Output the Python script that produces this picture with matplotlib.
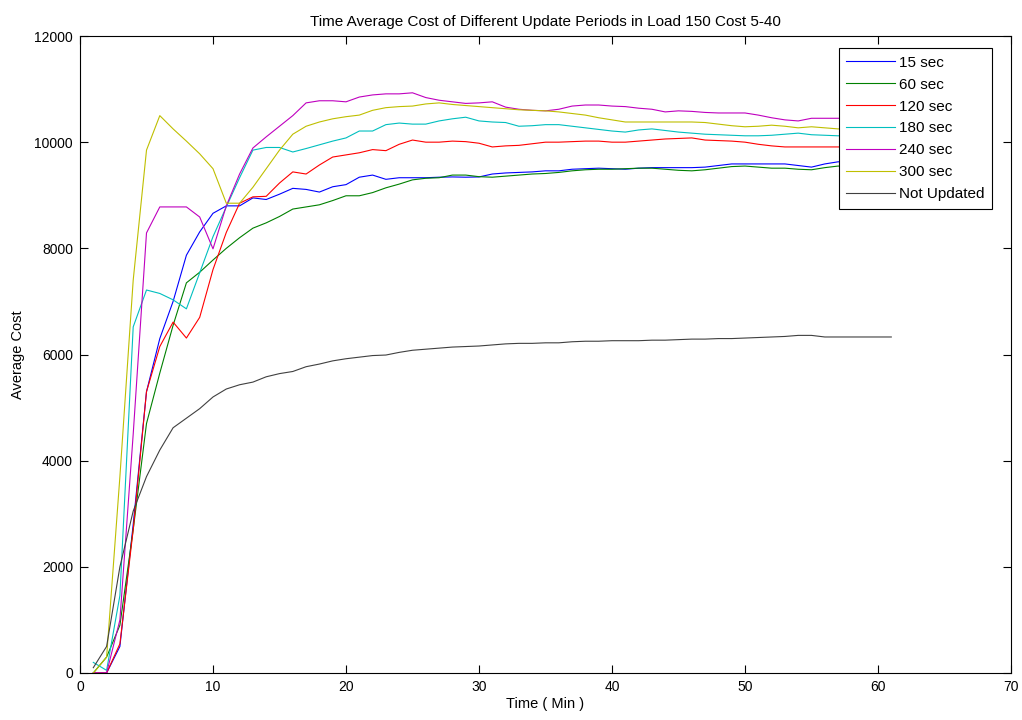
import matplotlib
matplotlib.use("Agg")
import matplotlib.pyplot as plt
import numpy as np

plt.rcParams['font.family'] = ['Liberation Sans', 'DejaVu Sans']

minutes = list(range(1, 62))

cost_15 = [0, 0, 500, 2800, 5300, 6300, 7000, 7870, 8310, 8660,
           8800, 8800, 8950, 8920, 9020, 9130, 9110, 9060, 9160, 9200,
           9340, 9380, 9300, 9330, 9330, 9330, 9340, 9345, 9340, 9345,
           9400, 9420, 9430, 9440, 9460, 9460, 9490, 9500, 9510, 9500,
           9490, 9510, 9520, 9520, 9520, 9520, 9530, 9560, 9590, 9590,
           9590, 9590, 9590, 9560, 9530, 9590, 9630, 9620, 9630, 9640, 9640]

cost_60 = [0, 300, 900, 2700, 4700, 5650, 6550, 7350, 7550, 7780,
           8000, 8200, 8380, 8480, 8600, 8740, 8780, 8820, 8900, 8990,
           8990, 9050, 9140, 9210, 9290, 9320, 9330, 9380, 9380, 9350,
           9340, 9360, 9380, 9400, 9410, 9430, 9460, 9480, 9490, 9490,
           9500, 9510, 9510, 9490, 9470, 9460, 9480, 9510, 9540, 9550,
           9530, 9510, 9510, 9490, 9480, 9520, 9550, 9540, 9550, 9560, 9560]

cost_120 = [0, 0, 550, 2700, 5300, 6150, 6610, 6310, 6700, 7600,
            8300, 8850, 8970, 8980, 9230, 9440, 9400, 9570, 9720, 9760,
            9800, 9860, 9840, 9960, 10040, 10000, 10000, 10020, 10010, 9980,
            9910, 9930, 9940, 9970, 10000, 10000, 10010, 10020, 10020, 10000,
            10000, 10020, 10040, 10060, 10070, 10080, 10040, 10030, 10020, 10000,
            9960, 9930, 9910, 9910, 9910, 9910, 9910, 9910, 9910, 9910, 9910]

cost_180 = [200, 50, 1460, 6520, 7215, 7150, 7030, 6860, 7540, 8220,
            8780, 9330, 9850, 9900, 9900, 9815, 9880, 9950, 10020, 10080,
            10210, 10210, 10330, 10360, 10340, 10340, 10400, 10440, 10470, 10400,
            10380, 10370, 10300, 10310, 10330, 10330, 10300, 10270, 10240, 10210,
            10190, 10230, 10250, 10220, 10190, 10170, 10150, 10140, 10130, 10120,
            10120, 10130, 10150, 10170, 10140, 10130, 10120, 10130, 10130, 10140, 10140]

cost_240 = [0, 0, 1000, 4500, 8290, 8780, 8780, 8780, 8590, 7990,
            8800, 9400, 9890, 10100, 10300, 10500, 10740, 10780, 10780, 10760,
            10850, 10890, 10910, 10910, 10930, 10840, 10790, 10760, 10730, 10740,
            10760, 10660, 10620, 10600, 10590, 10620, 10680, 10700, 10700, 10680,
            10670, 10640, 10620, 10570, 10590, 10580, 10560, 10550, 10550, 10550,
            10510, 10460, 10420, 10400, 10450, 10450, 10450, 10440, 10440, 10440, 10440]

cost_300 = [0, 300, 3700, 7400, 9850, 10500, 10250, 10020, 9780, 9500,
            8850, 8850, 9150, 9500, 9850, 10150, 10300, 10380, 10440, 10480,
            10510, 10600, 10650, 10670, 10680, 10720, 10740, 10710, 10690, 10670,
            10650, 10630, 10610, 10600, 10590, 10570, 10540, 10510, 10460, 10420,
            10380, 10380, 10380, 10380, 10380, 10380, 10370, 10340, 10310, 10290,
            10300, 10320, 10300, 10270, 10290, 10270, 10250, 10250, 10250, 10250, 10250]

cost_static = [100, 500, 2000, 3050, 3700, 4200, 4620, 4800, 4980, 5200,
               5350, 5430, 5480, 5580, 5640, 5680, 5770, 5820, 5880, 5920,
               5950, 5980, 5990, 6040, 6080, 6100, 6120, 6140, 6150, 6160,
               6180, 6200, 6210, 6210, 6220, 6220, 6240, 6250, 6250, 6260,
               6260, 6260, 6270, 6270, 6280, 6290, 6290, 6300, 6300, 6310,
               6320, 6330, 6340, 6360, 6360, 6330, 6330, 6330, 6330, 6330, 6330]

labels = ["15 sec", "60 sec", "120 sec", "180 sec", "240 sec", "300 sec", "Not Updated"]
colors = [(0, 0, 1), (0, 0.5, 0), (1, 0, 0), (0, 0.75, 0.75),
          (0.75, 0, 0.75), (0.75, 0.75, 0), (0.25, 0.25, 0.25)]
series = [cost_15, cost_60, cost_120, cost_180, cost_240, cost_300, cost_static]

x_ticks = list(range(0, 71, 10))
y_ticks = list(range(0, 12001, 2000))

fig = plt.figure(figsize=(10.22, 7.2), dpi=100)
ax = fig.add_axes([80 / 1022, 1 - 673 / 720, 931 / 1022, 637 / 720])

for vals, lab, col in zip(series, labels, colors):
    ax.plot(minutes, vals, color=col, lw=0.8, label=lab)

ax.set_xlim(0, 70)
ax.set_ylim(0, 12000)
ax.set_xticks(x_ticks)
ax.set_yticks(y_ticks)
ax.tick_params(direction='in', length=6, width=0.8, top=True, right=True,
               labelsize=10, pad=5, colors='black')
for s in ax.spines.values():
    s.set_linewidth(0.8)
    s.set_color('black')

ax.set_title("Time Average Cost of Different Update Periods in Load 150 Cost 5-40",
             fontsize=11, pad=7)
ax.set_xlabel("Time ( Min )", fontsize=10.5, labelpad=2)
ax.set_ylabel("Average Cost", fontsize=10.5, labelpad=7)

leg = ax.legend(loc='upper right', bbox_to_anchor=((992 - 80) / 931, (673 - 48) / 637),
                borderaxespad=0, fontsize=11, fancybox=False, framealpha=1,
                edgecolor='black', handlelength=3.2, handletextpad=0.25,
                labelspacing=0.52, borderpad=0.5)
leg.get_frame().set_linewidth(0.8)

fig.savefig("out.png", dpi=100)
